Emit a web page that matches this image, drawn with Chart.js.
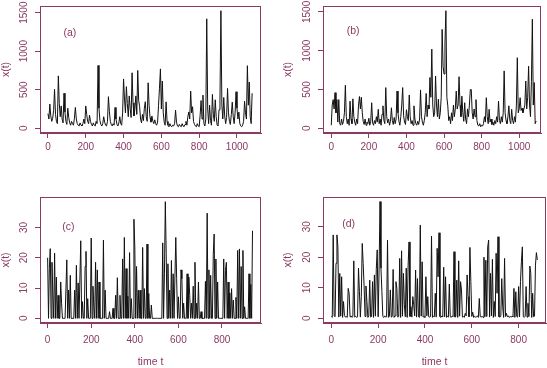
<!DOCTYPE html>
<html>
<head>
<meta charset="utf-8">
<script src="https://cdn.jsdelivr.net/npm/chart.js@4.4.0/dist/chart.umd.min.js"></script>
<style>
  html, body { margin: 0; padding: 0; background: #fff; }
  #wrap { position: relative; width: 547px; height: 368px; }
  .cell { position: absolute; }
</style>
</head>
<body>
<div id="wrap">
  <div class="cell" style="left:0;top:0;width:273px;height:184px"><canvas id="chart-a"></canvas></div>
  <div class="cell" style="left:273px;top:0;width:274px;height:184px"><canvas id="chart-b"></canvas></div>
  <div class="cell" style="left:0;top:184px;width:273px;height:184px"><canvas id="chart-c"></canvas></div>
  <div class="cell" style="left:273px;top:184px;width:274px;height:184px"><canvas id="chart-d"></canvas></div>
</div>
<script>
// series, one value every 5 (a, b) or 4 (c, d) time units
const stepAB = 5;
const stepCD = 4;

const seriesA = [
  190, 120, 315, 160, 90, 130, 230, 505, 180, 90,
  60, 680, 320, 150, 290, 120, 70, 455, 210, 90,
  50, 260, 140, 70, 40, 90, 60, 40, 130, 270,
  120, 60, 40, 30, 70, 40, 30, 60, 120, 60,
  290, 180, 90, 60, 170, 90, 50, 30, 70, 40,
  30, 90, 60, 815, 260, 100, 50, 30, 60, 150,
  80, 40, 30, 90, 410, 220, 90, 50, 30, 60,
  40, 270, 120, 50, 30, 70, 150, 60, 40, 200,
  640, 380, 200, 540, 320, 150, 420, 260, 140, 720,
  330, 160, 250, 420, 180, 750, 360, 280, 120, 70,
  180, 100, 260, 345, 150, 90, 590, 300, 140, 80,
  160, 90, 60, 110, 60, 40, 80, 300, 520, 770,
  250, 613, 200, 80, 40, 343, 90, 40, 20, 60,
  30, 20, 40, 30, 60, 235, 80, 30, 20, 50,
  30, 20, 60, 30, 20, 50, 90, 40, 150, 212,
  120, 482, 200, 280, 90, 50, 30, 20, 60, 30,
  20, 170, 360, 120, 430, 60, 30, 120, 1420, 250,
  60, 300, 100, 40, 439, 180, 90, 370, 150, 40,
  30, 240, 380, 1525, 300, 120, 400, 160, 60, 140,
  517, 200, 90, 50, 180, 340, 150, 60, 200, 474,
  260, 120, 210, 60, 30, 20, 40, 90, 350, 200,
  120, 812, 300, 600, 150, 60, 455
];

const seriesB = [
  40, 300, 370, 250, 460, 200, 370, 80, 370, 60,
  40, 120, 50, 90, 200, 555, 150, 60, 120, 40,
  350, 120, 60, 380, 150, 80, 40, 120, 60, 300,
  410, 250, 400, 200, 90, 50, 120, 40, 80, 60,
  130, 40, 90, 330, 70, 40, 100, 60, 150, 80,
  245, 60, 120, 40, 180, 290, 100, 60, 525, 150,
  70, 120, 40, 90, 265, 100, 50, 140, 60, 120,
  480, 200, 90, 40, 150, 300, 525, 160, 80, 50,
  240, 150, 100, 430, 150, 60, 100, 40, 290, 120,
  60, 40, 90, 50, 120, 495, 150, 80, 40, 100,
  200, 450, 150, 300, 250, 655, 400, 1020, 300, 150,
  200, 675, 300, 150, 375, 120, 200, 400, 1275, 800,
  700, 1100, 1515, 400, 290, 100, 150, 60, 200, 100,
  300, 150, 250, 480, 250, 300, 665, 300, 150, 415,
  200, 90, 330, 120, 60, 250, 150, 300, 500, 500,
  200, 120, 250, 150, 370, 100, 40, 30, 60, 20,
  40, 30, 60, 150, 80, 395, 150, 60, 245, 80,
  120, 50, 80, 40, 100, 60, 150, 80, 350, 100,
  60, 150, 80, 200, 740, 200, 100, 60, 150, 290,
  100, 60, 245, 100, 60, 150, 80, 300, 910, 200,
  250, 395, 230, 260, 200, 250, 300, 610, 250, 400,
  800, 300, 150, 600, 1405, 300, 590, 60, 95
];

const seriesC = [
  20, 0, 16.5, 23, 0, 18.5, 8, 0, 21.5, 0,
  13.6, 0, 7.6, 0, 0, 12, 5, 0, 0, 0,
  0, 0, 19.3, 0, 9.3, 0, 14.2, 0, 0, 0,
  0, 9.3, 0, 17.5, 0, 11.7, 0, 0, 25.6, 0,
  5.5, 0, 0, 17.1, 22.1, 0, 6.5, 0, 0, 0,
  26.5, 0, 10.6, 4, 0, 18.5, 0, 16, 0, 12,
  0, 0, 0, 0, 25.8, 0, 9.3, 0, 0, 0,
  0, 2.2, 0, 0, 0, 3.3, 0, 0, 7.6, 0,
  13.4, 0, 0, 7.6, 0, 0, 19.6, 0, 26.7, 0,
  16.4, 0, 7.3, 0, 21.7, 0, 6.5, 0, 0, 32.7,
  23.5, 0, 17.1, 0, 9.3, 0, 9.3, 0, 0, 23.4,
  0, 9.8, 0, 0, 24.5, 0, 8.2, 0, 0, 4.4,
  0, 0, 0, 0, 0, 0, 0, 0, 0, 0,
  0, 0, 24.9, 0, 14.7, 38.5, 21.5, 0, 18, 0,
  9.3, 0, 19.1, 0, 14.7, 0, 0, 26.7, 13.1, 0,
  7.1, 0, 0, 16, 13.1, 0, 5, 0, 0, 0,
  14.7, 0, 13.6, 7.6, 0, 5, 0, 10.6, 0, 18.5,
  0, 5, 0, 12, 0, 0, 2.2, 0, 0, 0,
  0, 12.2, 0, 34.7, 0, 16, 0, 14.2, 0, 0,
  21, 27.8, 0, 19.6, 0, 12, 0, 0, 0, 0,
  0, 0, 19.6, 0, 15.8, 18.5, 0, 12, 0, 8.4,
  0, 9.8, 0, 6, 0, 0, 6.9, 0, 22.4, 0,
  22.9, 0, 17.1, 0, 22.4, 0, 3.8, 0, 0, 0,
  0, 14.7, 0, 11.2, 0, 28.9
];

const seriesD = [
  0.6, 0.3, 27.3, 0.8, 0.5, 18, 27.3, 23.4, 0.4, 14.7,
  0.7, 13.6, 0.3, 5.5, 0.9, 0.4, 0.6, 0.3, 9.8, 8.2,
  0.5, 0.8, 0.3, 0.6, 18.8, 0.4, 0.7, 0.3, 0.5, 16.4,
  8.7, 0.4, 7.1, 24.5, 18, 10.6, 0.6, 10.6, 5.5, 0.3,
  0.8, 12.5, 0.4, 0.6, 12, 0.3, 14.2, 0.7, 16, 22.4,
  0.5, 15.8, 38.2, 16.4, 8.7, 0.6, 0.3, 0.8, 0.4, 0.5,
  25.6, 0.3, 0.7, 9.3, 0.4, 0.6, 16, 0.3, 0.8, 12,
  9.8, 0.4, 0.6, 19.6, 0.3, 22.1, 0.7, 14.7, 4.4, 0.5,
  16.4, 0.3, 17.4, 25, 0.6, 3.8, 0.4, 7.1, 4.4, 0.8,
  15.8, 0.4, 13, 0.6, 0.3, 30.5, 0.7, 18.5, 0.4, 0.6,
  0.3, 13.6, 0.8, 7.1, 0.5, 0.4, 0.6, 26.9, 0.3, 0.7,
  0.5, 8.2, 0.4, 22.9, 13.6, 28, 0.6, 0.3, 0.8, 0.4,
  16.7, 0.5, 13.6, 0.3, 0.7, 0.4, 11.2, 0.6, 0.3, 0.8,
  0.5, 21.8, 0.4, 0.6, 12.5, 0.3, 18.8, 0.7, 12, 9.3,
  0.4, 0.6, 0.3, 1.6, 0.8, 14.2, 7.1, 0.5, 23.2, 12,
  0.6, 2, 0.3, 0.7, 0.4, 0.5, 0.8, 0.3, 6.5, 0.6,
  0.4, 0.7, 0.3, 20, 0.5, 19, 0.6, 23.4, 25.6, 0.4,
  14.7, 0.8, 19.3, 0.3, 5.5, 0.6, 21.3, 8.2, 26.7, 0.5,
  0.4, 0.7, 13, 3.8, 0.3, 19.6, 0.6, 1.6, 0.5, 0.8,
  0.3, 0.6, 0.4, 0.7, 0.5, 9.8, 0.3, 8.7, 0.6, 0.4,
  10.4, 0.5, 12, 18.5, 23.4, 0.6, 0.3, 0.7, 10.4, 0.4,
  4.9, 0.6, 17.1, 14.7, 0.3, 8.2, 0.5, 0.7, 17.4, 21.5,
  19.1
];

// tick labels
const xTicksAB = [0, 200, 400, 600, 800, 1000];
const xTicksCD = [0, 200, 400, 600, 800];
const yTicksAB = [0, 500, 1000, 1500];
const yTicksCD = [0, 10, 20, 30];

const panelNames = ["(a)", "(b)", "(c)", "(d)"];
const yTitle = "x(t)";
const xTitle = "time t";

const maroon = "#8b3a62";
const tickFont = { family: "'Liberation Sans', Arial, sans-serif", size: 10 };
const textFont = { family: "'Liberation Sans', Arial, sans-serif", size: 10.5 };

// box round the plot region, upright y tick labels (R style) and the panel letter
const boxAndLabel = {
	id: "boxAndLabel",
	afterDraw(chart) {
		const { ctx, chartArea, scales } = chart;
		const opts = chart.options.plugins.boxAndLabel;
		ctx.save();
		ctx.strokeStyle = maroon;
		ctx.lineWidth = 1;
		const l = Math.round(chartArea.left) + 0.5;
		const t = Math.round(chartArea.top) + 0.5;
		const r = Math.round(chartArea.right) - 0.5;
		const b = Math.round(chartArea.bottom) - 0.5;
		ctx.strokeRect(l, t, r - l, b - t);

		ctx.fillStyle = maroon;
		ctx.textAlign = "center";
		ctx.textBaseline = "middle";
		ctx.font = tickFont.size + "px " + tickFont.family;
		for (const v of opts.yTicks) {
			ctx.save();
			ctx.translate(chartArea.left - opts.yLabelOffset, scales.y.getPixelForValue(v));
			ctx.rotate(-Math.PI / 2);
			ctx.fillText(String(v), 0, 0);
			ctx.restore();
		}

		ctx.font = textFont.size + "px " + textFont.family;
		ctx.fillText(opts.text, scales.x.getPixelForValue(opts.x), scales.y.getPixelForValue(opts.y));
		ctx.restore();
	},
};

function drawPanel(id, values, step, cfg) {
	return new Chart(document.getElementById(id), {
		type: "line",
		data: {
			datasets: [
				{
					data: values.map((v, i) => ({ x: i * step, y: v })),
					borderColor: "#111",
					borderWidth: 1,
					pointRadius: 0,
					tension: 0,
					fill: false,
				},
			],
		},
		options: {
			animation: false,
			responsive: true,
			maintainAspectRatio: false,
			layout: { padding: cfg.padding },
			plugins: {
				legend: { display: false },
				tooltip: { enabled: false },
				boxAndLabel: {
					text: cfg.label.text,
					x: cfg.label.x,
					y: cfg.label.y,
					yTicks: cfg.yTicks,
					yLabelOffset: 16,
				},
			},
			scales: {
				x: {
					type: "linear",
					min: cfg.xMin,
					max: cfg.xMax,
					afterFit: (scale) => {
						scale.height = cfg.xHeight;
					},
					afterBuildTicks: (scale) => {
						scale.ticks = cfg.xTicks.map((v) => ({ value: v }));
					},
					ticks: {
						color: maroon,
						font: tickFont,
						padding: cfg.xPad,
						autoSkip: false,
						maxRotation: 0,
						callback: (v) => String(v),
					},
					grid: { drawOnChartArea: false, color: maroon, tickLength: 5 },
					border: { color: maroon },
					title: {
						display: cfg.showXTitle,
						text: xTitle,
						color: maroon,
						font: textFont,
						padding: { top: 0, bottom: 0 },
					},
				},
				y: {
					type: "linear",
					min: cfg.yMin,
					max: cfg.yMax,
					afterFit: (scale) => {
						scale.width = cfg.yWidth;
					},
					afterBuildTicks: (scale) => {
						scale.ticks = cfg.yTicks.map((v) => ({ value: v }));
					},
					ticks: { display: false },
					grid: { drawOnChartArea: false, color: maroon, tickLength: 5 },
					border: { color: maroon },
					title: {
						display: true,
						text: yTitle,
						color: maroon,
						font: textFont,
						padding: { top: 0, bottom: 0 },
					},
				},
			},
		},
		plugins: [boxAndLabel],
	});
}

drawPanel("chart-a", seriesA, stepAB, {
	padding: { left: 0, top: 6, right: 12, bottom: 0 },
	xMin: -42, xMax: 1127, yMin: -61, yMax: 1586,
	xTicks: xTicksAB, yTicks: yTicksAB,
	xHeight: 51, yWidth: 40, xPad: 3, showXTitle: false,
	label: { text: panelNames[0], x: 116, y: 1240 },
});

drawPanel("chart-b", seriesB, stepAB, {
	padding: { left: 9, top: 6, right: 6, bottom: 0 },
	xMin: -44, xMax: 1116, yMin: -60, yMax: 1576,
	xTicks: xTicksAB, yTicks: yTicksAB,
	xHeight: 51, yWidth: 41, xPad: 3, showXTitle: false,
	label: { text: panelNames[1], x: 116, y: 1250 },
});

drawPanel("chart-c", seriesC, stepCD, {
	padding: { left: 0, top: 13, right: 12, bottom: 0 },
	xMin: -35, xMax: 979, yMin: -1.54, yMax: 40.04,
	xTicks: xTicksCD, yTicks: yTicksCD,
	xHeight: 45, yWidth: 40, xPad: 6, showXTitle: true,
	label: { text: panelNames[2], x: 95, y: 30 },
});

drawPanel("chart-d", seriesD, stepCD, {
	padding: { left: 9, top: 13, right: 1, bottom: 0 },
	xMin: -35.6, xMax: 917, yMin: -1.53, yMax: 39.7,
	xTicks: xTicksCD, yTicks: yTicksCD,
	xHeight: 45, yWidth: 41, xPad: 6, showXTitle: true,
	label: { text: panelNames[3], x: 74, y: 30.8 },
});
</script>
</body>
</html>
